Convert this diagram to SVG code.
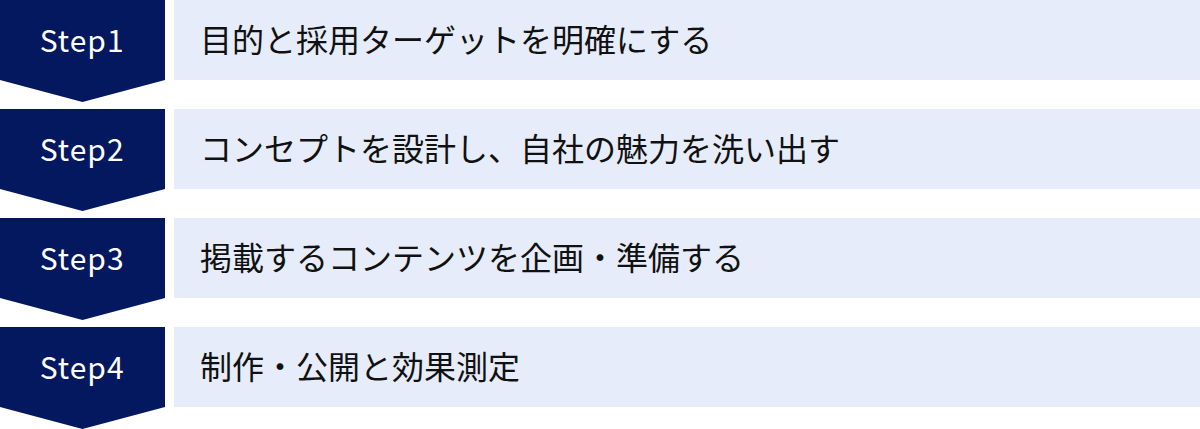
<svg xmlns="http://www.w3.org/2000/svg" width="1200" height="429" viewBox="0 0 1200 429">
<style>
.chev{fill:#04185F}
.box{fill:#E6ECF9}
.step{font-family:"Noto Sans CJK JP","Noto Sans",sans-serif;font-size:30px;fill:#FFFFFF;text-anchor:middle;letter-spacing:1px}
.lbl{font-family:"Noto Sans CJK JP","Noto Sans",sans-serif;font-size:32px;fill:#111111}
</style>
<rect width="1200" height="429" fill="#FFFFFF"/>
<g id="step1">
<polygon class="chev" points="0,0 165,0 165,80 82.5,102 0,80"/>
<rect class="box" x="174" y="0" width="1026" height="80"/>
<text class="step" x="82.2" y="51.5">Step1</text>
<text class="lbl" x="200" y="52">目的と採用ターゲットを明確にする</text>
</g>
<g id="step2">
<polygon class="chev" points="0,109 165,109 165,189 82.5,211 0,189"/>
<rect class="box" x="174" y="109" width="1026" height="80"/>
<text class="step" x="82.2" y="160.5">Step2</text>
<text class="lbl" x="200" y="161">コンセプトを設計し、自社の魅力を洗い出す</text>
</g>
<g id="step3">
<polygon class="chev" points="0,218 165,218 165,298 82.5,320 0,298"/>
<rect class="box" x="174" y="218" width="1026" height="80"/>
<text class="step" x="82.2" y="269.5">Step3</text>
<text class="lbl" x="200" y="270">掲載するコンテンツを企画・準備する</text>
</g>
<g id="step4">
<polygon class="chev" points="0,327 165,327 165,407 82.5,429 0,407"/>
<rect class="box" x="174" y="327" width="1026" height="80"/>
<text class="step" x="82.2" y="378.5">Step4</text>
<text class="lbl" x="200" y="379">制作・公開と効果測定</text>
</g>
<g id="connectors"></g>
</svg>
